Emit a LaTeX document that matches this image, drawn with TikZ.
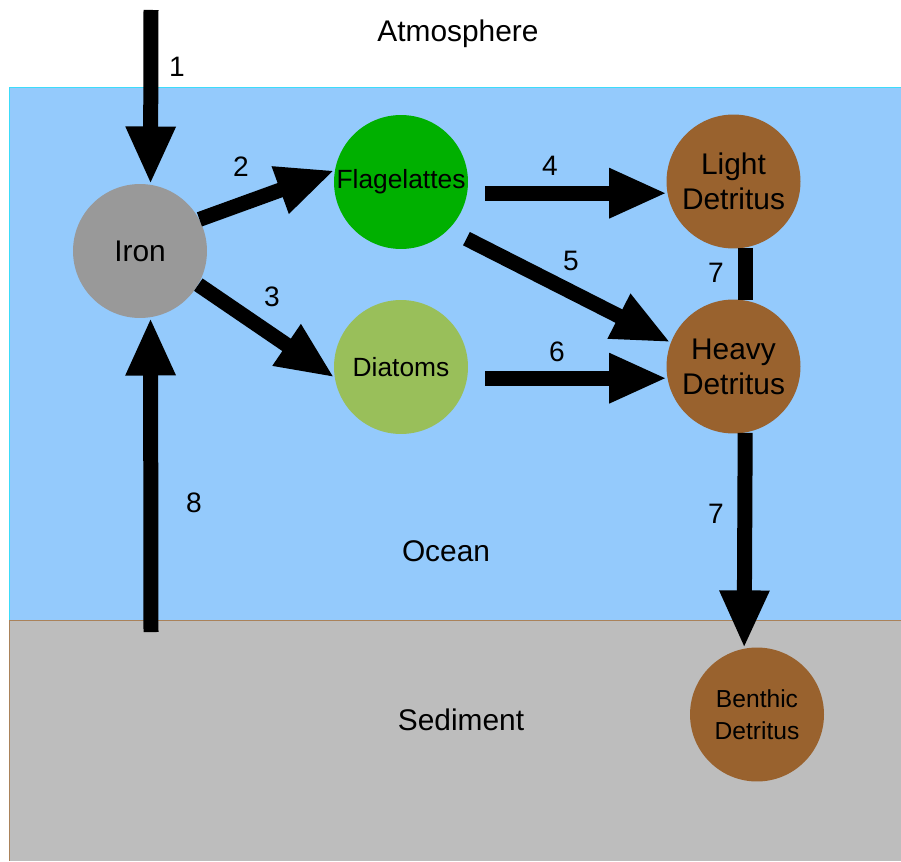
\documentclass[tikz,border=0pt]{standalone}
\usepackage{fontspec}
\setmainfont{Liberation Sans}
\usetikzlibrary{arrows.meta}
\definecolor{oceanblue}{RGB}{148,202,252}
\definecolor{oceanedge}{RGB}{60,220,250}
\definecolor{sedgray}{RGB}{189,189,189}
\definecolor{sededge}{RGB}{170,130,90}
\definecolor{irongray}{RGB}{153,153,153}
\definecolor{flaggreen}{RGB}{0,176,0}
\definecolor{diatgreen}{RGB}{153,191,90}
\definecolor{detbrown}{RGB}{153,98,46}
\tikzset{
  pool/.style={circle, inner sep=0pt, minimum size=2.68cm, align=center, font=\fontsize{17}{20}\selectfont},
  flow/.style={line width=0.3cm, -{Triangle[length=1.16cm,width=0.92cm]}},
  link/.style={line width=0.3cm},
  num/.style={font=\fontsize{16}{19}\selectfont},
  region/.style={font=\fontsize{17}{20}\selectfont}
}
\begin{document}
\begin{tikzpicture}[x=0.02cm,y=-0.02cm]
\useasboundingbox (0,0) rectangle (901,861);
% layers
\fill[oceanblue] (9,87) rectangle (901,620);
\draw[oceanedge] (901,87) -- (9,87) -- (9,620);
\fill[sedgray] (9,620) rectangle (901,861);
\draw[sededge] (901,620) -- (9,620) -- (9,861);
\node[region] (atm) at (458,34) {Atmosphere};
\node[region] (oce) at (446,551) {Ocean};
\node[region] (sed) at (461,720) {Sediment};

% pools
\node[pool, fill=irongray] (iron) at (140,251) {Iron};
\node[pool, fill=flaggreen, font=\fontsize{15}{18}\selectfont] (flag) at (401,182) {Flagelattes};
\node[pool, fill=diatgreen, font=\fontsize{15}{18}\selectfont] (diat) at (401,367) {Diatoms};
\node[pool, fill=detbrown] (light) at (733.5,181.5) {Light\\Detritus};
\node[pool, fill=detbrown] (heavy) at (733.5,366.5) {Heavy\\Detritus};
\node[pool, fill=detbrown, font=\fontsize{14}{18.5}\selectfont] (benth) at (757,714.5) {Benthic\\Detritus};

% fluxes
\coordinate (dust) at (151,10);
\coordinate (resus) at (151,632);
\draw[flow] (dust) -- (iron.81);
\draw[flow] (iron.28) -- (flag.170);
\draw[flow] (iron.-30) -- (diat.189);
\draw[flow, shorten <=0.34cm] (flag.east |- light.190) -- (light.190);
\draw[flow, shorten <=0.4cm] (flag.-45) -- (heavy.159);
\draw[flow, shorten <=0.34cm] (diat.east |- heavy.190) -- (heavy.190);
\draw[link] (light.-80) -- (heavy.80);
\draw[flow] (heavy.-80) -- (benth.101);
\draw[flow] (resus) -- (iron.-81);

\node[num] (n1) at (177,67) {1};
\node[num] (n2) at (241,167) {2};
\node[num] (n3) at (272,297) {3};
\node[num] (n4) at (550,166) {4};
\node[num] (n5) at (571,261) {5};
\node[num] (n6) at (557,352) {6};
\node[num] (n7a) at (716,273) {7};
\node[num] (n7b) at (716,514) {7};
\node[num] (n8) at (194,503) {8};
\end{tikzpicture}
\end{document}
